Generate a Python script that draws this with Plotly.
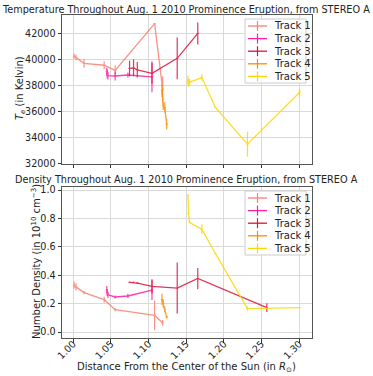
import plotly.graph_objects as go
from plotly.subplots import make_subplots

# track data
track_names = ['Track 1', 'Track 2', 'Track 3', 'Track 4', 'Track 5']
track_colors = ['#fa8072', '#ff1fa0', '#dc143c', '#ff8c00', '#ffd700']

x1 = [1.0010, 1.0036, 1.0143, 1.0410, 1.0556, 1.1080, 1.1187]
temp1 = [40250, 40150, 39700, 39550, 39150, 42750, 37700]
temp1_err = [200, 200, 350, 300, 400, 0, 1000]
dens1 = [0.330, 0.318, 0.278, 0.228, 0.158, 0.118, 0.064]
dens1_err = [0.025, 0.025, 0.012, 0.02, 0.012, 0.105, 0.02]

x2 = [1.0445, 1.0450, 1.0460, 1.0556, 1.0725, 1.1045]
temp2 = [39050, 38900, 38750, 38720, 38800, 38660]
temp2_err = [300, 350, 300, 350, 200, 1200]
dens2 = [0.300, 0.275, 0.262, 0.247, 0.254, 0.295]
dens2_err = [0.025, 0.02, 0.02, 0.01, 0.015, 0.07]

x3 = [1.0747, 1.0800, 1.0850, 1.1045, 1.1380, 1.1653, 1.2570]
temp3 = [39300, 39350, 39200, 38920, 40080, 42000, None]
temp3_err = [600, 650, 600, 800, 1600, 850, 0]
dens3 = [0.350, 0.350, 0.345, 0.322, 0.310, 0.377, 0.172]
dens3_err = [0.005, 0.005, 0.005, 0.05, 0.18, 0.075, 0.03]

x4 = [1.1178, 1.1195, 1.1215, 1.1240]
temp4 = [37600, 36400, 36300, 35000]
temp4_err = [500, 300, 400, 400]
dens4 = [0.230, 0.200, 0.160, 0.105]
dens4_err = [0.04, 0.03, 0.02, 0.01]

x5 = [1.1522, 1.1530, 1.1545, 1.1707, 1.1887, 1.2313, 1.3004]
temp5 = [38400, 38200, 38250, 38600, 36300, 33470, 37450]
temp5_err = [350, 300, 250, 250, 0, 960, 300]
dens5 = [0.965, 0.835, 0.772, 0.725, 0.553, 0.165, 0.172]
dens5_err = [0.0, 0.0, 0.0, 0.033, 0.0, 0.015, 0.005]

x_ticks = [1.0, 1.05, 1.1, 1.15, 1.2, 1.25, 1.3]
x_ticktext = ['1.00', '1.05', '1.10', '1.15', '1.20', '1.25', '1.30']
temp_ticks = [32000, 34000, 36000, 38000, 40000, 42000]
dens_ticks = [0.0, 0.2, 0.4, 0.6, 0.8, 1.0]

xs = [x1, x2, x3, x4, x5]
temps = [temp1, temp2, temp3, temp4, temp5]
temp_errs = [temp1_err, temp2_err, temp3_err, temp4_err, temp5_err]
dens = [dens1, dens2, dens3, dens4, dens5]
dens_errs = [dens1_err, dens2_err, dens3_err, dens4_err, dens5_err]

FONT = 'DejaVu Sans'
W, H = 373, 376
ML, MR, MT, MB = 62, 61, 15, 38


def px(xp):
    return (xp - ML) / (W - ML - MR)


def py(yp):
    return 1 - (yp - MT) / (H - MT - MB)


fig = make_subplots(rows=2, cols=1)

for i in range(5):
    fig.add_trace(go.Scatter(
        x=xs[i], y=temps[i], mode='lines', name=track_names[i], showlegend=False,
        line=dict(color=track_colors[i], width=1.3),
        error_y=dict(type='data', array=temp_errs[i], color=track_colors[i], thickness=1.2, width=0),
        error_x=dict(type='constant', value=0.0015, color=track_colors[i], thickness=1, width=0),
        opacity=0.85,
    ), row=1, col=1)
    fig.add_trace(go.Scatter(
        x=xs[i], y=dens[i], mode='lines', name=track_names[i], showlegend=False,
        line=dict(color=track_colors[i], width=1.3),
        error_y=dict(type='data', array=dens_errs[i], color=track_colors[i], thickness=1.2, width=0),
        error_x=dict(type='constant', value=0.0015, color=track_colors[i], thickness=1, width=0),
        opacity=0.85,
    ), row=2, col=1)

axis_style = dict(
    showline=True, mirror=True, linecolor='#555', linewidth=1,
    showgrid=True, gridcolor='#d9d9d9', gridwidth=1, zeroline=False,
    ticks='outside', ticklen=3.5, tickcolor='#333',
    tickfont=dict(family=FONT, size=9.6, color='#222'), automargin=False,
)

fig.update_xaxes(axis_style)
fig.update_yaxes(axis_style)

fig.update_xaxes(range=[0.985, 1.317], tickvals=x_ticks, showticklabels=False, row=1, col=1)
fig.update_xaxes(range=[0.985, 1.317], tickvals=x_ticks, ticktext=x_ticktext,
                 tickangle=-45, ticklabelstandoff=-8, row=2, col=1)
fig.update_yaxes(range=[31950, 43420], tickvals=temp_ticks, ticktext=[str(v) for v in temp_ticks],
                 domain=[0.539, 1.0], row=1, col=1)
fig.update_yaxes(range=[-0.042, 1.023], tickvals=dens_ticks, ticktext=['%.1f' % v for v in dens_ticks],
                 domain=[0.0, 0.468], row=2, col=1)

txt = dict(family=FONT, size=10, color='#222')
annotations = [
    dict(text='Temperature Throughout Aug. 1 2010 Prominence Eruption, from STEREO A',
         x=px(186), y=py(9), xanchor='center', yanchor='middle', font=dict(txt, size=9.7)),
    dict(text='Density Throughout Aug. 1 2010 Prominence Eruption, from STEREO A',
         x=px(186), y=py(179), xanchor='center', yanchor='middle', font=dict(txt, size=9.7)),
    dict(text='<i>T</i><sub><i>e</i></sub> (in Kelvin)', textangle=-90,
         x=px(21), y=py(88), xanchor='center', yanchor='middle', font=txt),
    dict(text='Number Density (in 10<sup>10</sup> cm<sup>−3</sup>)', textangle=-90,
         x=px(36), y=py(262), xanchor='center', yanchor='middle', font=txt),
    dict(text='Distance From the Center of the Sun (in <i>R</i><sub>⊙</sub>)',
         x=px(186), y=py(367), xanchor='center', yanchor='middle', font=txt),
]

# hand-drawn legends, one per panel (plotly's entries are too tall here)
shapes = []
for top in [19, 191]:
    shapes.append(dict(type='rect', xref='paper', yref='paper',
                       x0=px(245), x1=px(306), y0=py(top), y1=py(top + 64),
                       line=dict(color='#cccccc', width=1), fillcolor='rgba(255,255,255,0.85)'))
    for i in range(5):
        yc = top + 7 + 12.6 * i
        shapes.append(dict(type='line', xref='paper', yref='paper',
                           x0=px(248), x1=px(267), y0=py(yc), y1=py(yc),
                           line=dict(color=track_colors[i], width=1.3)))
        shapes.append(dict(type='line', xref='paper', yref='paper',
                           x0=px(257.5), x1=px(257.5), y0=py(yc - 5), y1=py(yc + 5),
                           line=dict(color=track_colors[i], width=1.2)))
        annotations.append(dict(text=track_names[i], x=px(272), y=py(yc),
                                xanchor='left', yanchor='middle', font=txt))

for a in annotations:
    a.update(xref='paper', yref='paper', showarrow=False)

fig.update_layout(
    width=W, height=H,
    margin=dict(l=ML, r=MR, t=MT, b=MB),
    paper_bgcolor='white', plot_bgcolor='white',
    font=dict(family=FONT, size=10, color='#222'),
    showlegend=False,
    annotations=annotations,
    shapes=shapes,
)

# drop the page's default body margin so the figure sits at the window corner
fig.write_html('out.html', config={'displayModeBar': False},
               post_script="document.body.style.margin='0';")
